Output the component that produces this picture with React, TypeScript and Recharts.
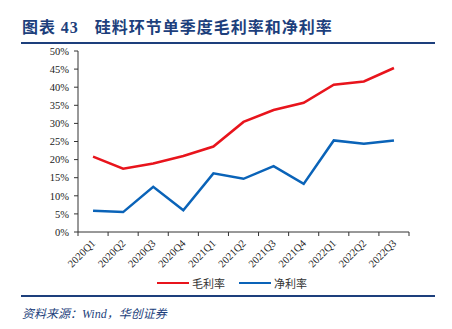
import { Line, LineChart, XAxis, YAxis } from "recharts";

const quarters = [
  "2020Q1", "2020Q2", "2020Q3", "2020Q4",
  "2021Q1", "2021Q2", "2021Q3", "2021Q4",
  "2022Q1", "2022Q2", "2022Q3",
];
const grossMargin = [20.8, 17.5, 18.9, 21.0, 23.6, 30.4, 33.7, 35.7, 40.7, 41.6, 45.3];
const netMargin = [5.9, 5.5, 12.5, 6.0, 16.2, 14.7, 18.2, 13.3, 25.3, 24.4, 25.3];
const yTicks = [0, 5, 10, 15, 20, 25, 30, 35, 40, 45, 50];

const data = quarters.map((q, i) => ({ q, gross: grossMargin[i], net: netMargin[i] }));

const W = 452;
const H = 329;
const PLOT_LEFT = 78;
const PLOT_RIGHT = 409;
const BAND = (PLOT_RIGHT - PLOT_LEFT) / quarters.length;

const RED = "#e8141c";
const BLUE = "#0a63b8";
const NAVY = "#1d3f7c";
const AXIS = "#333";
const SERIF = '"Times New Roman", "Liberation Serif", serif';
const CJK = '"Noto Sans CJK SC", sans-serif';

function XTick(props: any) {
  const { x, y, payload, index } = props;
  const last = index === quarters.length - 1;
  const ax = x + 3;
  const ay = y + 12;
  return (
    <g>
      <line x1={x - BAND / 2} x2={x - BAND / 2} y1={y} y2={y + 4} stroke={AXIS} />
      {last && <line x1={x + BAND / 2} x2={x + BAND / 2} y1={y} y2={y + 4} stroke={AXIS} />}
      <text
        x={ax}
        y={ay}
        textAnchor="end"
        transform={`rotate(-45, ${ax}, ${ay})`}
        fontSize={10.5}
        fontFamily={SERIF}
        fill="#222"
      >
        {payload.value}
      </text>
    </g>
  );
}

export default function App() {
  return (
    <div style={{ position: "absolute", left: 0, top: 0, width: W, height: H, background: "#fff" }}>
      <div
        style={{
          position: "absolute",
          left: 22,
          top: 14,
          fontFamily: CJK,
          fontWeight: 700,
          fontSize: 16,
          color: NAVY,
          letterSpacing: 1,
          whiteSpace: "nowrap",
        }}
      >
        图表 <span style={{ fontFamily: SERIF }}>43</span>
        <span style={{ marginLeft: 16 }}>硅料环节单季度毛利率和净利率</span>
      </div>
      <div style={{ position: "absolute", left: 21, top: 42, width: 414, height: 2, background: NAVY }} />

      <div style={{ position: "absolute", left: 0, top: 0 }}>
        <LineChart
          width={W}
          height={290}
          data={data}
          margin={{ top: 51, right: W - PLOT_RIGHT, left: 0, bottom: 0 }}
        >
          <XAxis
            dataKey="q"
            scale="band"
            height={58}
            interval={0}
            tickLine={false}
            tickSize={0}
            tickMargin={0}
            stroke={AXIS}
            tick={<XTick />}
          />
          <YAxis
            width={PLOT_LEFT}
            domain={[0, 50]}
            ticks={yTicks}
            interval={0}
            tickSize={4}
            tickMargin={5}
            stroke={AXIS}
            tickFormatter={(v: number) => `${v}%`}
            tick={{ fontSize: 10.5, fontFamily: SERIF, fill: "#222" }}
          />
          <Line dataKey="gross" stroke={RED} strokeWidth={2.5} dot={false} isAnimationActive={false} />
          <Line dataKey="net" stroke={BLUE} strokeWidth={2.5} dot={false} isAnimationActive={false} />
        </LineChart>
      </div>

      <div
        style={{
          position: "absolute",
          left: 157,
          top: 275,
          display: "flex",
          alignItems: "center",
          fontFamily: CJK,
          fontSize: 11,
          color: "#333",
          whiteSpace: "nowrap",
        }}
      >
        <span style={{ width: 32, height: 2.5, background: RED, marginRight: 3 }} />
        <span>毛利率</span>
        <span style={{ width: 32, height: 2.5, background: BLUE, marginLeft: 14, marginRight: 3 }} />
        <span>净利率</span>
      </div>

      <div style={{ position: "absolute", left: 21, top: 295, width: 414, height: 2, background: NAVY }} />
      <div
        style={{
          position: "absolute",
          left: 22,
          top: 304,
          fontFamily: `${SERIF.replace("serif", "")} ${CJK}`,
          fontStyle: "italic",
          fontSize: 12,
          color: NAVY,
          whiteSpace: "nowrap",
        }}
      >
        资料来源：Wind，华创证券
      </div>
    </div>
  );
}
